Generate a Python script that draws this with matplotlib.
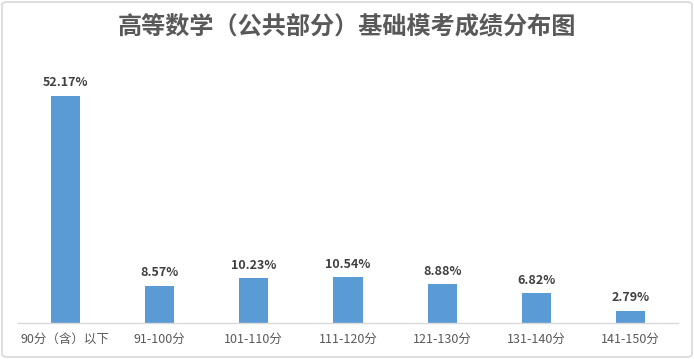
import matplotlib
matplotlib.use('Agg')
import matplotlib.pyplot as plt
from matplotlib.patches import FancyBboxPatch

plt.rcParams['font.family'] = ['Noto Sans CJK SC', 'DejaVu Sans']

categories = ['90分（含）以下', '91-100分', '101-110分', '111-120分', '121-130分', '131-140分', '141-150分']
values = [52.17, 8.57, 10.23, 10.54, 8.88, 6.82, 2.79]
title = '高等数学（公共部分）基础模考成绩分布图'

W, H = 694, 359
fig = plt.figure(figsize=(W / 100, H / 100), dpi=100)

# outer border
border = FancyBboxPatch((2 / W, 2 / H), 1 - 4 / W, 1 - 4 / H,
                        boxstyle='round,pad=0,rounding_size=0.008',
                        transform=fig.transFigure, fill=False,
                        edgecolor='#d9d9d9', linewidth=1.2)
fig.patches.append(border)

ax_left, ax_right = 18, 678
ax_top, ax_bottom = 50, 323
ax = fig.add_axes([ax_left / W, 1 - ax_bottom / H, (ax_right - ax_left) / W, (ax_bottom - ax_top) / H])

xs = range(len(categories))
bars = ax.bar(xs, values, width=0.31, color='#5b9bd5')
for x, v in zip(xs, values):
    ax.text(x, v + 1.5, f'{v:.2f}%', ha='center', va='bottom', fontsize=9,
            fontweight='bold', color='#404040')

ax.set_xlim(-0.5, len(categories) - 0.5)
ax.set_ylim(0, 52.17 * (ax_bottom - ax_top) / (ax_bottom - 96))
ax.set_xticks(list(xs))
ax.set_xticklabels(categories, fontsize=9, color='#595959')
ax.tick_params(axis='x', length=0, pad=7)
ax.set_yticks([])
for s in ['top', 'right', 'left']:
    ax.spines[s].set_visible(False)
ax.spines['bottom'].set_color('#d9d9d9')
ax.spines['bottom'].set_linewidth(1)

fig.text(0.5, 1 - 27 / H, title, ha='center', va='center', fontsize=17.4,
         fontweight='bold', color='#595959')

fig.savefig('out.png', dpi=100)
